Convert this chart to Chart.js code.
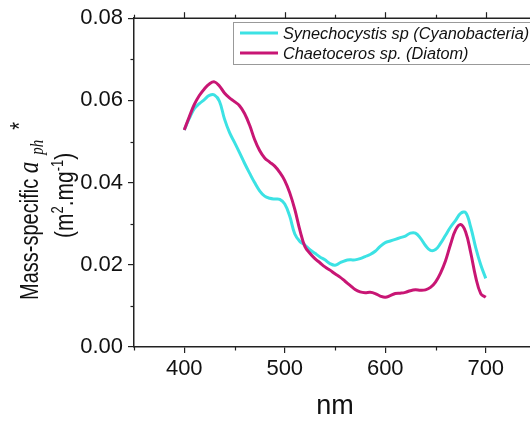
<!DOCTYPE html>
<html>
<head>
<meta charset="utf-8">
<script src="https://cdn.jsdelivr.net/npm/chart.js@4.4.1/dist/chart.umd.min.js"></script>
<style>
  html, body { margin: 0; padding: 0; background: #fff; overflow: hidden; }
  #wrap { width: 545px; height: 421px; }
</style>
</head>
<body>
<div id="wrap"><canvas id="chart" width="545" height="421"></canvas></div>
<script>
const wavelengths = [400, 405, 410, 415, 420, 425, 430, 435, 440, 445, 450, 455, 460, 465, 470, 475,
  480, 485, 490, 495, 500, 505, 510, 515, 520, 525, 530, 535, 540, 545, 550, 555, 560, 565, 570,
  575, 580, 585, 590, 595, 600, 605, 610, 615, 620, 625, 630, 635, 640, 645, 650, 655, 660, 665,
  670, 675, 680, 685, 690, 695, 700];

const synechocystis = [0.0528, 0.0556, 0.0580, 0.0592, 0.0602, 0.0612, 0.0613, 0.0598, 0.0555, 0.0522,
  0.0498, 0.0473, 0.0447, 0.0423, 0.0400, 0.0380, 0.0367, 0.0362, 0.0360, 0.0359, 0.0348, 0.0318,
  0.0275, 0.0257, 0.0248, 0.0237, 0.0228, 0.0219, 0.0212, 0.0203, 0.0199, 0.0205, 0.0210, 0.0212,
  0.0212, 0.0215, 0.0220, 0.0225, 0.0233, 0.0245, 0.0254, 0.0258, 0.0262, 0.0266, 0.0270, 0.0277,
  0.0277, 0.0265, 0.0247, 0.0235, 0.0237, 0.0252, 0.0272, 0.0292, 0.0308, 0.0325, 0.0327, 0.0292,
  0.0242, 0.0200, 0.0167];

const chaetoceros = [0.0528, 0.0560, 0.0590, 0.0612, 0.0628, 0.0640, 0.0645, 0.0635, 0.0618, 0.0606,
  0.0597, 0.0587, 0.0568, 0.0540, 0.0505, 0.0478, 0.0460, 0.0450, 0.0440, 0.0425, 0.0405, 0.0375,
  0.0335, 0.0285, 0.0245, 0.0228, 0.0215, 0.0205, 0.0195, 0.0187, 0.0178, 0.0170, 0.0160, 0.0150,
  0.0140, 0.0134, 0.0132, 0.0133, 0.0130, 0.0124, 0.0121, 0.0125, 0.0130, 0.0131, 0.0133, 0.0137,
  0.0139, 0.0138, 0.0139, 0.0145, 0.0158, 0.0180, 0.0210, 0.0250, 0.0285, 0.0298, 0.0280, 0.0230,
  0.0170, 0.0130, 0.0121];

const seriesLabels = ['Synechocystis sp (Cyanobacteria)', 'Chaetoceros sp. (Diatom)'];
const xMajorTicks = [400, 500, 600, 700];
const xMinorTicks = [350, 450, 550, 650, 750];
const yMajorTicks = [0, 0.02, 0.04, 0.06, 0.08];
const yMinorTicks = [0.01, 0.03, 0.05, 0.07];

const cyan = 'rgb(60, 226, 228)';
const magenta = 'rgb(200, 22, 116)';
const axisColor = '#222';
const sans = "'Liberation Sans', Arial, sans-serif";
const serif = "'Liberation Serif', 'Times New Roman', serif";

// extra axis pieces: top frame, minor ticks, legend box, y title
const decor = {
  id: 'decor',
  afterDraw(chart) {
    const {ctx, chartArea: a, scales: {x, y}} = chart;
    ctx.save();
    ctx.strokeStyle = axisColor;
    ctx.lineWidth = 1.5;
    ctx.beginPath();
    ctx.moveTo(a.left, a.top);
    ctx.lineTo(a.right, a.top);
    ctx.stroke();
    ctx.lineWidth = 1.2;
    xMajorTicks.forEach(v => {
      const px = Math.round(x.getPixelForValue(v)) + 0.5;
      ctx.beginPath(); ctx.moveTo(px, a.top); ctx.lineTo(px, a.top - 6); ctx.stroke();
    });
    xMinorTicks.forEach(v => {
      const px = Math.round(x.getPixelForValue(v)) + 0.5;
      ctx.beginPath(); ctx.moveTo(px, a.bottom); ctx.lineTo(px, a.bottom + 3.5); ctx.stroke();
      ctx.beginPath(); ctx.moveTo(px, a.top); ctx.lineTo(px, a.top - 3.5); ctx.stroke();
    });
    yMinorTicks.forEach(v => {
      const py = Math.round(y.getPixelForValue(v)) + 0.5;
      ctx.beginPath(); ctx.moveTo(a.left, py); ctx.lineTo(a.left - 3.5, py); ctx.stroke();
    });

    // legend
    ctx.fillStyle = '#fff';
    ctx.fillRect(233.5, 22.5, 320, 42);
    ctx.strokeStyle = '#999';
    ctx.lineWidth = 1;
    ctx.strokeRect(233.5, 22.5, 320, 42);
    [cyan, magenta].forEach((c, i) => {
      const ly = 33 + i * 20;
      ctx.strokeStyle = c;
      ctx.lineWidth = 3;
      ctx.beginPath(); ctx.moveTo(240, ly); ctx.lineTo(278, ly); ctx.stroke();
      ctx.fillStyle = '#111';
      ctx.font = 'italic 16.3px ' + sans;
      ctx.textBaseline = 'middle';
      ctx.textAlign = 'left';
      ctx.fillText(seriesLabels[i], 283, ly + 1);
    });

    // rotated y title
    const drawLine = (bx, by, parts) => {
      ctx.save();
      ctx.translate(bx, by);
      ctx.rotate(-Math.PI / 2);
      ctx.scale(1, 1.25);
      ctx.fillStyle = '#111';
      ctx.textBaseline = 'alphabetic';
      ctx.textAlign = 'left';
      let cx = 0;
      parts.forEach(p => {
        cx += p.gap || 0;
        ctx.font = p.font;
        ctx.fillText(p.text, cx, p.dy || 0);
        cx += ctx.measureText(p.text).width;
      });
      ctx.restore();
    };
    drawLine(38, 300, [
      {text: 'Mass-specific ', font: '20px ' + sans},
      {text: 'a', font: 'italic 23px ' + serif},
      {text: 'ph', font: 'italic 15px ' + serif, dy: 4, gap: 7},
      {text: '*', font: '20px ' + sans, dy: -8, gap: 10}
    ]);
    drawLine(73, 238, [
      {text: '(m', font: '21px ' + sans},
      {text: '2', font: '13px ' + sans, dy: -8},
      {text: '.mg', font: '21px ' + sans},
      {text: '-1', font: '13px ' + sans, dy: -8},
      {text: ')', font: '21px ' + sans}
    ]);
    ctx.restore();
  }
};

new Chart(document.getElementById('chart'), {
  type: 'line',
  data: {
    datasets: [
      {
        label: seriesLabels[0],
        data: wavelengths.map((w, i) => ({x: w, y: synechocystis[i]})),
        borderColor: cyan,
        borderWidth: 3,
        pointRadius: 0,
        tension: 0.4,
        order: 1
      },
      {
        label: seriesLabels[1],
        data: wavelengths.map((w, i) => ({x: w, y: chaetoceros[i]})),
        borderColor: magenta,
        borderWidth: 3,
        pointRadius: 0,
        tension: 0.4,
        order: 0
      }
    ]
  },
  options: {
    responsive: false,
    animation: false,
    layout: {padding: {top: 18, right: 9, left: 0, bottom: 0}},
    plugins: {legend: {display: false}, tooltip: {enabled: false}},
    scales: {
      x: {
        type: 'linear',
        min: 350,
        max: 750,
        afterBuildTicks: s => { s.ticks = xMajorTicks.map(v => ({value: v})); },
        afterFit: s => { s.height = 74; },
        grid: {drawOnChartArea: false, color: axisColor, tickLength: 6, lineWidth: 1.2},
        border: {color: axisColor, width: 1.5},
        ticks: {color: '#111', padding: 3, font: {family: sans, size: 22}},
        title: {display: true, text: 'nm', color: '#111',
          font: {family: sans, size: 27, lineHeight: 1}, padding: {top: 0, bottom: 1}}
      },
      y: {
        min: 0,
        max: 0.08,
        afterBuildTicks: s => { s.ticks = yMajorTicks.map(v => ({value: v})); },
        afterFit: s => { s.width = 134; },
        grid: {drawOnChartArea: false, color: axisColor, tickLength: 6, lineWidth: 1.2},
        border: {color: axisColor, width: 1.5},
        ticks: {color: '#111', padding: 5, font: {family: sans, size: 22},
          callback: v => v.toFixed(2)}
      }
    }
  },
  plugins: [decor]
});
</script>
</body>
</html>
